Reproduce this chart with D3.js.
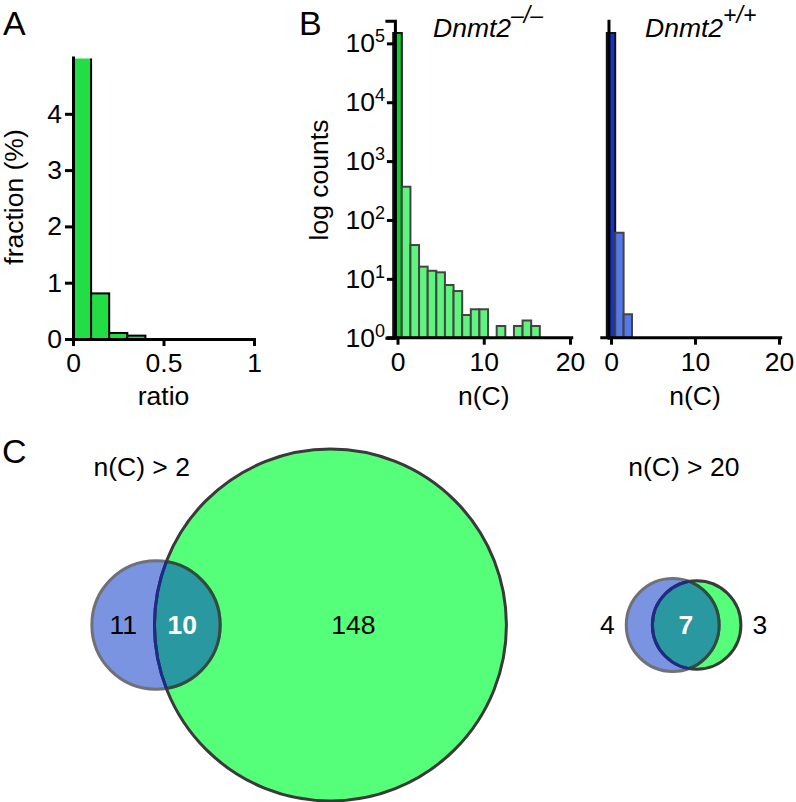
<!DOCTYPE html>
<html><head><meta charset="utf-8">
<script src="https://cdn.jsdelivr.net/npm/d3@7"></script>
<style>
html,body{margin:0;padding:0;background:#fff;}
svg{display:block;font-family:"Liberation Sans",Arial,Helvetica,sans-serif;}
</style></head><body>
<script>
// ---------- DATA ----------
// Panel A: ratio histogram (bin start, fraction %)
const ratioBinStart = [0, 0.1, 0.2, 0.3, 0.4, 0.5, 0.6, 0.7, 0.8, 0.9];
const ratioFraction = [98.9, 0.81, 0.107, 0.06, 0, 0, 0, 0, 0, 0];
const yTicksA = [0, 1, 2, 3, 4];
const xTicksA = [0, 0.5, 1];

// Panel B: n(C) histograms (counts, log scale)
const nC_KO = [0, 1, 2, 3, 4, 5, 6, 7, 8, 9, 10, 11, 12, 13, 14, 15, 16];
const countsKO = [150000, 367, 37.5, 16.1, 13.7, 12.9, 7.85, 6.2, 2.43, 3.04, 3.04, 0, 1.58, 0, 1.58, 1.96, 1.58];
const nC_WT = [0, 1, 2];
const countsWT = [150000, 60.7, 2.5];
const xTicksB = [0, 10, 20];
const logExpB = [0, 1, 2, 3, 4, 5];
const titleKO = ["Dnmt2", "\u2013/\u2013"];
const titleWT = ["Dnmt2", "+/+"];

// Panel C: Venn diagrams (WT = blue, KO = green)
const vennTitles = ["n(C) > 2", "n(C) > 20"];
const onlyWT = [11, 4];
const bothSets = [10, 7];
const onlyKO = [148, 3];

// ---------- LAYOUT ----------
const W = 796, H = 802;
const FS = 26.5;
const svg = d3.select("body").append("svg").attr("width", W).attr("height", H);

function styleAxis(g) {
  g.attr("font-family", null).attr("font-size", null);
  g.select(".domain").attr("stroke", "#000").attr("stroke-width", 3).attr("stroke-linecap", "square");
  g.selectAll(".tick line").attr("stroke", "#000").attr("stroke-width", 3);
  g.selectAll(".tick text").attr("fill", "#000").style("font-size", FS + "px");
}

function panelLetter(t, x, y) {
  svg.append("text").attr("x", x).attr("y", y).style("font-size", "34px").text(t);
}

// ---------- PANEL A ----------
const xA = d3.scaleLinear().domain([0, 1]).range([73, 254]);
const yA = d3.scaleLinear().domain([0, 5]).range([339, 57.5]);
svg.append("clipPath").attr("id", "clipA").append("rect")
  .attr("x", 0).attr("y", 58.5).attr("width", 300).attr("height", 300);
const binW = 0.1;
svg.append("g").attr("clip-path", "url(#clipA)")
  .selectAll("rect").data(ratioBinStart.map((s, i) => ({ s, v: ratioFraction[i] })).filter(d => d.v > 0))
  .join("rect")
  .attr("x", d => xA(d.s))
  .attr("width", d => xA(d.s + binW) - xA(d.s))
  .attr("y", d => yA(Math.min(d.v, 6)))
  .attr("height", d => yA(0) - yA(Math.min(d.v, 6)))
  .attr("fill", "#22dd44").attr("stroke", "#000").attr("stroke-width", 2);

svg.append("g").attr("transform", `translate(${xA(0)},0)`)
  .call(d3.axisLeft(yA).tickValues(yTicksA).tickSize(8).tickSizeOuter(0).tickPadding(3).tickFormat(d3.format("d")))
  .call(styleAxis);
svg.append("g").attr("transform", `translate(0,${yA(0)})`)
  .call(d3.axisBottom(xA).tickValues(xTicksA).tickSize(7).tickSizeOuter(0).tickPadding(7).tickFormat(d => String(d)))
  .call(styleAxis);
svg.append("text").attr("x", xA(0.5)).attr("y", 405).attr("text-anchor", "middle").style("font-size", FS + "px").text("ratio");
svg.append("text").attr("transform", `translate(23,197) rotate(-90)`).attr("text-anchor", "middle")
  .style("font-size", FS + "px").text("fraction (%)");
panelLetter("A", 3, 35);

// ---------- PANEL B ----------
const yB = d3.scaleLog().domain([1, Math.pow(10, 5.385)]).range([337.7, 20.7]);

function histB(xS, nArr, cArr, darkFill, lightFill, title, titleX, yLabels) {
  const data = nArr.map((n, i) => ({ n, c: cArr[i] })).filter(d => d.c > 0);
  svg.append("g").selectAll("rect").data(data).join("rect")
    .attr("x", d => xS(d.n - 0.5))
    .attr("width", d => xS(d.n + 0.5) - xS(d.n - 0.5))
    .attr("y", d => yB(d.c))
    .attr("height", d => yB(1) - yB(d.c))
    .attr("fill", d => d.n === 0 ? darkFill : lightFill)
    .attr("stroke", d => d.n === 0 ? "#111" : "#444")
    .attr("stroke-width", 2);
  // x axis
  const gx = svg.append("g").attr("transform", `translate(0,${yB(1)})`)
    .call(d3.axisBottom(xS).tickValues(xTicksB).tickSize(7).tickSizeOuter(0).tickPadding(7))
    .call(styleAxis);
  gx.select(".domain").attr("d", `M${xS(-1.1)},0H${xS(20.2)}`);
  // y axis
  const axisX = xS(-0.3);
  const ya = d3.axisLeft(yB).tickSizeOuter(0);
  if (yLabels) ya.tickValues(logExpB.map(e => Math.pow(10, e))).tickSize(8).tickPadding(2).tickFormat("");
  else ya.tickValues([]);
  const gy = svg.append("g").attr("transform", `translate(${axisX},0)`).call(ya).call(styleAxis);
  if (yLabels) {
    gy.selectAll(".tick text").each(function (d) {
      const t = d3.select(this);
      t.text(null);
      t.append("tspan").text("10");
      t.append("tspan").attr("dy", -10).style("font-size", "18px").text(Math.round(Math.log10(d)));
    });
  }
  svg.append("text").attr("x", xS(10)).attr("y", 405).attr("text-anchor", "middle").style("font-size", FS + "px").text("n(C)");
  const tt = svg.append("text").attr("x", titleX).attr("y", 36.7).style("font-style", "italic").style("font-size", "26.5px");
  tt.append("tspan").text(title[0]);
  tt.append("tspan").attr("dy", -14).style("font-size", "23px").text(title[1]);
}

const xB = d3.scaleLinear().domain([0, 20]).range([397.5, 570]);
histB(xB, nC_KO, countsKO, "#11cc33", "#5ef57e", titleKO, 433, true);
svg.append("text").attr("transform", `translate(328,180) rotate(-90)`).attr("text-anchor", "middle")
  .style("font-size", FS + "px").text("log counts");
panelLetter("B", 299, 35);

const xR = d3.scaleLinear().domain([0, 20]).range([611, 779]);
histB(xR, nC_WT, countsWT, "#1432d2", "#5578eb", titleWT, 645, false);

// ---------- PANEL C ----------
panelLetter("C", 2, 463);
const rScale = d3.scaleSqrt().domain([0, 1]).range([0, 14]);
function lensArea(r1, r2, d) {
  if (d >= r1 + r2) return 0;
  if (d <= Math.abs(r1 - r2)) return Math.PI * Math.min(r1, r2) ** 2;
  const a = r1 * r1 * Math.acos((d * d + r1 * r1 - r2 * r2) / (2 * d * r1));
  const b = r2 * r2 * Math.acos((d * d + r2 * r2 - r1 * r1) / (2 * d * r2));
  const c = 0.5 * Math.sqrt((-d + r1 + r2) * (d + r1 - r2) * (d - r1 + r2) * (d + r1 + r2));
  return a + b - c;
}
function solveDist(r1, r2, target) {
  let lo = Math.abs(r1 - r2), hi = r1 + r2;
  for (let k = 0; k < 60; k++) {
    const m = (lo + hi) / 2;
    if (lensArea(r1, r2, m) > target) lo = m; else hi = m;
  }
  return (lo + hi) / 2;
}
const vennBlueX = [156, 672.7];
const vennCY = 625;
const vennTitleX = [141.7, 683.8];
const labelsOutside = [false, true];

vennTitles.forEach((title, i) => {
  const nWT = onlyWT[i] + bothSets[i], nKO = onlyKO[i] + bothSets[i];
  const rB = rScale(nWT), rG = rScale(nKO);
  const d = solveDist(rB, rG, Math.PI * rScale(bothSets[i]) ** 2);
  const cxB = vennBlueX[i], cxG = cxB + d, cy = vennCY;
  const defs = svg.append("defs");
  defs.append("clipPath").attr("id", "vb" + i).append("circle").attr("cx", cxB).attr("cy", cy).attr("r", rB);
  defs.append("clipPath").attr("id", "vg" + i).append("circle").attr("cx", cxG).attr("cy", cy).attr("r", rG);
  const g = svg.append("g");
  g.append("circle").attr("cx", cxB).attr("cy", cy).attr("r", rB).attr("fill", "#7b94e2");
  g.append("circle").attr("cx", cxG).attr("cy", cy).attr("r", rG).attr("fill", "#55ff7a");
  g.append("circle").attr("cx", cxG).attr("cy", cy).attr("r", rG).attr("fill", "#2a98a0").attr("clip-path", `url(#vb${i})`);
  g.append("circle").attr("cx", cxB).attr("cy", cy).attr("r", rB).attr("fill", "none").attr("stroke", "#707078").attr("stroke-width", 3);
  g.append("circle").attr("cx", cxB).attr("cy", cy).attr("r", rB).attr("fill", "none").attr("stroke", "#2c4e3c").attr("stroke-width", 3).attr("clip-path", `url(#vg${i})`);
  g.append("circle").attr("cx", cxG).attr("cy", cy).attr("r", rG).attr("fill", "none").attr("stroke", "#3a3a3a").attr("stroke-width", 3);
  g.append("circle").attr("cx", cxG).attr("cy", cy).attr("r", rG).attr("fill", "none").attr("stroke", "#1c2c86").attr("stroke-width", 3).attr("clip-path", `url(#vb${i})`);

  const blueL = cxB - rB, blueR = cxB + rB, greenL = cxG - rG, greenR = cxG + rG;
  let xw, xb, xk;
  xb = (greenL + blueR) / 2;
  if (labelsOutside[i]) { xw = blueL - 19; xk = greenR + 19; }
  else { xw = (blueL + greenL) / 2; xb -= 5; xk = cxG + 0.13 * rG; }
  const ly = cy + 0.35 * FS;
  g.append("text").attr("x", xw).attr("y", ly).attr("text-anchor", "middle").style("font-size", FS + "px").text(onlyWT[i]);
  g.append("text").attr("x", xb).attr("y", ly).attr("text-anchor", "middle").style("font-size", FS + "px")
    .style("font-weight", "bold").attr("fill", "#fff").text(bothSets[i]);
  g.append("text").attr("x", xk).attr("y", ly).attr("text-anchor", "middle").style("font-size", FS + "px").text(onlyKO[i]);
  svg.append("text").attr("x", vennTitleX[i]).attr("y", 476).attr("text-anchor", "middle").style("font-size", FS + "px").text(title);
});
</script>
</body></html>
